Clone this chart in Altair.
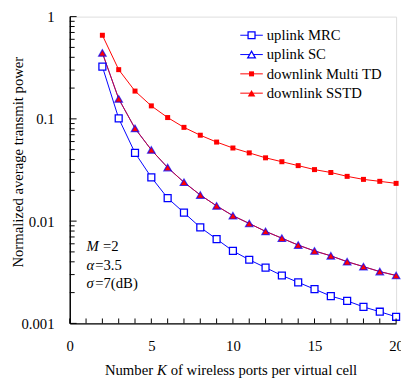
import altair as alt
import pandas as pd

# ---------------- data ----------------
K = list(range(2, 21))
uplink_mrc = [0.324, 0.101, 0.0465, 0.0268, 0.0168, 0.0121, 0.00869, 0.00667, 0.00511, 0.00419,
              0.00351, 0.00294, 0.00252, 0.00216, 0.00185, 0.00166, 0.00145, 0.00130, 0.00116]
uplink_sc = [0.442, 0.157, 0.0807, 0.0497, 0.0334, 0.0240, 0.0180, 0.0141, 0.0113, 0.00948,
             0.00794, 0.00681, 0.00583, 0.00511, 0.00458, 0.00401, 0.00359, 0.00321, 0.00294]
downlink_multi_td = [0.657, 0.303, 0.187, 0.134, 0.103, 0.0826, 0.0692, 0.0593, 0.0519, 0.0465,
                     0.0416, 0.0381, 0.0349, 0.0319, 0.0299, 0.0274, 0.0256, 0.0245, 0.0234]
downlink_sstd = [0.442, 0.157, 0.0807, 0.0497, 0.0334, 0.0240, 0.0180, 0.0141, 0.0113, 0.00948,
                 0.00794, 0.00681, 0.00583, 0.00511, 0.00458, 0.00401, 0.00359, 0.00321, 0.00294]
series_names = ["uplink MRC", "uplink SC", "downlink Multi TD", "downlink SSTD"]
x_tick_labels = [0, 5, 10, 15, 20]
y_tick_labels = [0.001, 0.01, 0.1, 1]

# ---------------- layout / style ----------------
W, H = 333, 313
FONT = "Liberation Serif"
FS = 15
BLUE = "#0000FF"
RED = "#FF0000"

xs = alt.Scale(domain=[0, 20], nice=False, zero=False)
ys = alt.Scale(type="log", domain=[0.001, 1], nice=False)

x_axis = alt.Axis(values=x_tick_labels, title=None, grid=False, ticks=False,
                  labelFont=FONT, labelFontSize=FS, labelColor="black", labelPadding=16,
                  labelFlush=False, domainColor="black", domainWidth=1.5, format="d")
y_axis = alt.Axis(values=y_tick_labels, title="Normalized average transmit power", grid=False,
                  ticks=False, labelFont=FONT, labelFontSize=FS, labelColor="black",
                  labelPadding=16, labelFlush=False, format="~g",
                  domainColor="black", domainWidth=1.5,
                  titleFont=FONT, titleFontSize=FS, titleFontWeight="normal", titleColor="black",
                  titleAngle=270, titleAlign="center", titleBaseline="middle",
                  titleX=-53, titleY=148)


def df_of(vals):
    return pd.DataFrame({"K": K, "P": vals})


def enc(ch, first=False):
    if first:
        return ch.encode(x=alt.X("K:Q", scale=xs, axis=x_axis),
                         y=alt.Y("P:Q", scale=ys, axis=y_axis))
    return ch.encode(x=alt.X("K:Q", scale=xs), y=alt.Y("P:Q", scale=ys))


layers = []
# lines
layers.append(enc(alt.Chart(df_of(uplink_mrc)).mark_line(color=BLUE, strokeWidth=1), first=True))
layers.append(enc(alt.Chart(df_of(downlink_multi_td)).mark_line(color=RED, strokeWidth=1)))
layers.append(enc(alt.Chart(df_of(uplink_sc)).mark_line(color=BLUE, strokeWidth=1)))
layers.append(enc(alt.Chart(df_of(downlink_sstd)).mark_line(color=RED, strokeWidth=1, opacity=0.8)))
# markers
layers.append(enc(alt.Chart(df_of(uplink_mrc)).mark_point(
    shape="square", size=50, filled=False, color=BLUE, strokeWidth=1.3, fill="white", fillOpacity=1)))
layers.append(enc(alt.Chart(df_of(downlink_multi_td)).mark_point(
    shape="square", size=26, filled=True, color=RED, opacity=1)))
layers.append(enc(alt.Chart(df_of(downlink_sstd)).mark_point(
    shape="triangle-up", size=60, filled=True, color=RED, opacity=1)))
layers.append(enc(alt.Chart(df_of(uplink_sc)).mark_point(
    shape="triangle-up", size=60, filled=False, color=BLUE, strokeWidth=1.2)))

# inward ticks
x_minor = pd.DataFrame({"K": list(range(0, 21))})
layers.append(alt.Chart(x_minor).mark_rule(color="black", strokeWidth=1).encode(
    x=alt.X("K:Q", scale=xs), y=alt.value(H), y2=alt.value(H - 5)))
y_major = pd.DataFrame({"P": y_tick_labels})
y_minor = pd.DataFrame({"P": [m * d for d in [0.001, 0.01, 0.1] for m in range(2, 10)]})
layers.append(alt.Chart(y_major).mark_rule(color="black", strokeWidth=1).encode(
    y=alt.Y("P:Q", scale=ys), x=alt.value(0), x2=alt.value(7)))
layers.append(alt.Chart(y_minor).mark_rule(color="black", strokeWidth=1).encode(
    y=alt.Y("P:Q", scale=ys), x=alt.value(0), x2=alt.value(5)))


def txt(s, x, y, italic=False, align="left"):
    return alt.Chart(pd.DataFrame({"t": [s]})).mark_text(
        align=align, baseline="middle", font=FONT, fontSize=FS,
        fontStyle="italic" if italic else "normal", color="black").encode(
        x=alt.value(x), y=alt.value(y), text="t:N")


# parameter annotations
layers += [txt("M", 17, 234, italic=True), txt("=2", 34, 234),
           txt("α", 17, 254, italic=True), txt("=3.5", 26, 254),
           txt("σ", 17, 272, italic=True), txt("=7(dB)", 26, 272)]

# x-axis title (with italic K)
layers += [txt("Number", 85, 361, align="right"), txt("K", 89, 361, italic=True),
           txt("of wireless ports per virtual cell", 103, 361)]

# legend
legend_style = [
    (BLUE, [("square", 50, False, BLUE)]),
    (BLUE, [("triangle-up", 60, False, BLUE)]),
    (RED, [("square", 26, True, RED)]),
    (RED, [("triangle-up", 60, True, RED)]),
]
for i, (name, (col, marks)) in enumerate(zip(series_names, legend_style)):
    yy = 19 + 19.7 * i
    one = pd.DataFrame({"t": [name]})
    layers.append(alt.Chart(one).mark_rule(color=col, strokeWidth=1).encode(
        x=alt.value(174), x2=alt.value(197), y=alt.value(yy)))
    for shp, sz, filled, c in marks:
        if filled:
            layers.append(alt.Chart(one).mark_point(shape=shp, size=sz, filled=True, color=c, opacity=1).encode(
                x=alt.value(185.5), y=alt.value(yy)))
        else:
            layers.append(alt.Chart(one).mark_point(shape=shp, size=sz, filled=False, color=c,
                                                    strokeWidth=1.3, fill="white", fillOpacity=1).encode(
                x=alt.value(185.5), y=alt.value(yy)))
    layers.append(txt(name, 201, yy))

chart = alt.layer(*layers).properties(
    width=W, height=H,
    autosize=alt.AutoSizeParams(type="none"),
    padding={"left": 63, "top": 5, "right": 5, "bottom": 55},
).configure_view(stroke="black", strokeWidth=1.5).configure(background="white")

chart.save("out.html", embed_options={"renderer": "svg", "actions": False})
